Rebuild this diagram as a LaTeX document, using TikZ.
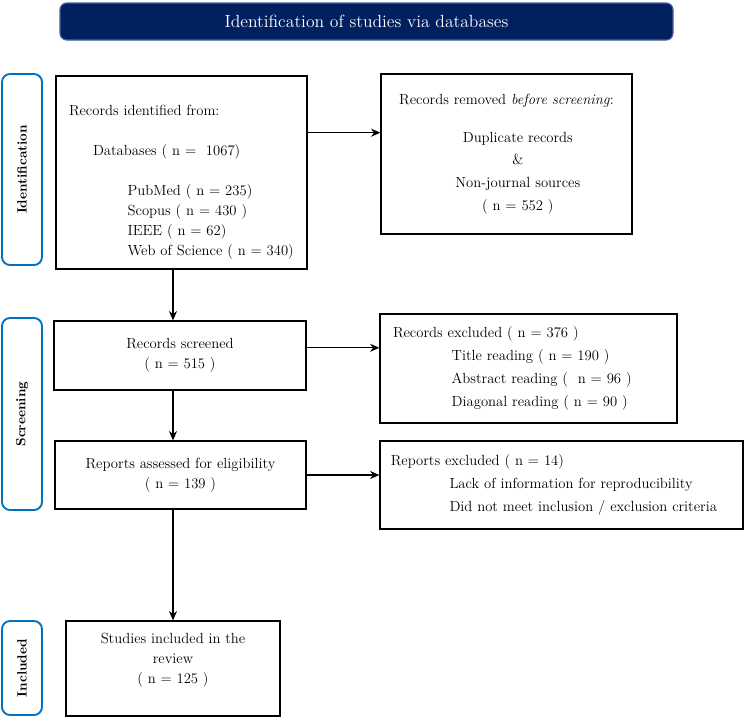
\documentclass[tikz,border=0pt]{standalone}
\usepackage{xcolor}
\usepackage{tikz}
\usetikzlibrary{calc, positioning, arrows.meta}

\definecolor{navy}{RGB}{0,32,96}
\definecolor{phaseblue}{RGB}{0,112,192}

\begin{document}
\begin{tikzpicture}[>={Stealth[length=7pt,width=6pt]}, x=0.75pt, y=-0.75pt,
    box/.style={draw=black, line width=0.9pt, inner sep=0pt, font=\fontsize{11}{15}\selectfont},
    phase/.style={draw=phaseblue, line width=1.4pt, rounded corners=6pt, rotate=90,
        inner sep=0pt, minimum height=30pt, font=\bfseries\fontsize{10}{12}\selectfont},
    arr/.style={->, line width=0.9pt}]

    \useasboundingbox (0,0) rectangle (745,718);

    % =================================================================
    % TIÊU ĐỀ
    % =================================================================
    \node[fill=navy, draw=navy!70!white, line width=0.8pt, rounded corners=5pt,
          minimum width=459.75pt, minimum height=27.75pt, text=white,
          font=\fontsize{13.2}{15}\selectfont] (head) at (366.5,21.5)
          {Identification of studies via databases};

    % =================================================================
    % NHÃN CÁC GIAI ĐOẠN (bên trái)
    % =================================================================
    \node[phase, minimum width=143.25pt] (lblid)  at (22,169.5) {Identification};
    \node[phase, minimum width=144pt]    (lblscr) at (22,414)   {Screening};
    \node[phase, minimum width=70.5pt]   (lblinc) at (22,668)   {Included};

    % =================================================================
    % CÁC HỘP CHÍNH
    % =================================================================
    % Hộp nguồn dữ liệu
    \node[box, minimum width=188.25pt, minimum height=144.75pt, align=left,
          text width=168.75pt] (recid) at (181.5,172.5)
          {\rule{0pt}{22pt}Records identified from:\\[15pt]
           \hspace*{18pt}Databases ( n =~ 1067)\\[15pt]
           \hspace*{44pt}PubMed ( n = 235)\\
           \hspace*{44pt}Scopus ( n = 430 )\\
           \hspace*{44pt}IEEE ( n = 62)\\
           \hspace*{44pt}Web of Science ( n = 340)};

    % Hộp bản ghi bị loại trước sàng lọc
    \node[box, minimum width=188.25pt, minimum height=120pt, align=center,
          text width=188.25pt, font=\fontsize{11}{17}\selectfont] (recrem) at (506.5,154)
          {Records removed \emph{before screening}:\\[11.5pt]
           \hspace*{17pt}Duplicate records\\
           \hspace*{17pt}\&\\
           \hspace*{17pt}Non-journal sources\\
           \hspace*{17pt}( n = 552 )};

    % Sàng lọc
    \node[box, minimum width=189pt, minimum height=51.75pt, align=center] (recscr) at (180,355.5)
          {Records screened\\( n = 515 )};

    \node[box, minimum width=222.75pt, minimum height=81.75pt, align=left,
          text width=203.25pt, font=\fontsize{11}{17.25}\selectfont] (recexc) at (528.5,368.5)
          {Records excluded ( n = 376 )\\
           \hspace*{44pt}Title reading ( n = 190 )\\
           \hspace*{44pt}Abstract reading (~ n = 96 )\\
           \hspace*{44pt}Diagonal reading ( n = 90 )};

    % Đánh giá tính đủ điều kiện
    \node[box, minimum width=188.25pt, minimum height=51pt, align=center] (repass) at (180.5,475)
          {Reports assessed for eligibility\\( n = 139 )};

    \node[box, minimum width=272.25pt, minimum height=66pt, align=left,
          text width=256pt, font=\fontsize{11}{17.25}\selectfont] (repexc) at (561.5,485)
          {Reports excluded ( n = 14)\\
           \hspace*{44pt}Lack of information for reproducibility\\
           \hspace*{44pt}Did not meet inclusion / exclusion criteria};

    % Nghiên cứu được đưa vào
    \node[box, minimum width=160.5pt, minimum height=71.25pt, align=center] (incl) at (173,668.5)
          {Studies included in the\\review\\( n = 125 )\rule[-16pt]{0pt}{0pt}};

    % =================================================================
    % MŨI TÊN
    % =================================================================
    \draw[arr] ($(recid.north east)!0.295!(recid.south east)$) coordinate (a1) -- (a1 -| recrem.west);
    \draw[arr] ($(recscr.north east)!0.39!(recscr.south east)$) coordinate (a2) -- (a2 -| recexc.west);
    \draw[arr] (repass.east) -- (repass.east -| repexc.west);

    \draw[arr] (recid.south -| incl.north) -- (recscr.north -| incl.north);
    \draw[arr] (recscr.south -| incl.north) -- (repass.north -| incl.north);
    \draw[arr] (repass.south -| incl.north) -- (incl.north);

\end{tikzpicture}
\end{document}
